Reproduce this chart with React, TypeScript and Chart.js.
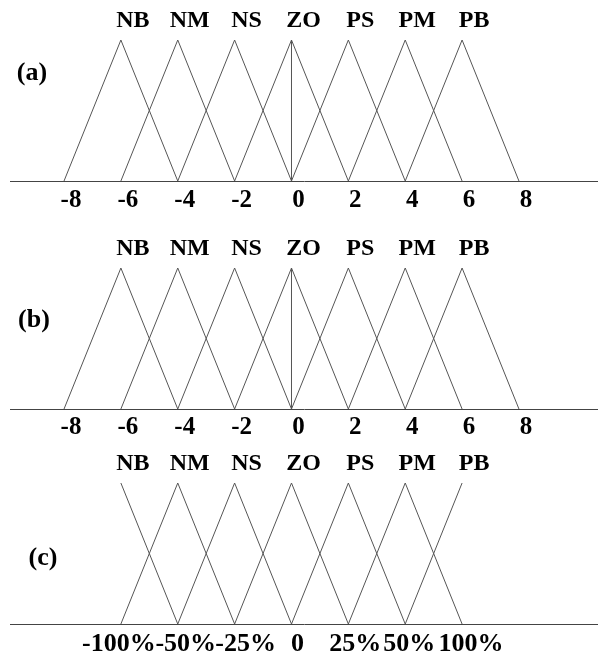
import { useEffect, useRef } from 'react';
import { Chart, registerables } from 'chart.js';

Chart.register(...registerables);

// Linguistic terms shared by all three universes of discourse
const termNames = ['NB', 'NM', 'NS', 'ZO', 'PS', 'PM', 'PB'];

// (a) error: triangular sets given as [left foot, peak, right foot]
const errorTicks = [-8, -6, -4, -2, 0, 2, 4, 6, 8];
const errorTriangles = [
  [-8, -6, -4],
  [-6, -4, -2],
  [-4, -2, 0],
  [-2, 0, 2],
  [0, 2, 4],
  [2, 4, 6],
  [4, 6, 8],
];

// (b) change of error
const errorRateTicks = [-8, -6, -4, -2, 0, 2, 4, 6, 8];
const errorRateTriangles = [
  [-8, -6, -4],
  [-6, -4, -2],
  [-4, -2, 0],
  [-2, 0, 2],
  [0, 2, 4],
  [2, 4, 6],
  [4, 6, 8],
];

// membership grades at each triangle vertex
const triangleGrades = [0, 1, 0];

// vertical marker at the centre of ZO
const centreMarkX = [0, 0];
const centreMarkY = [0, 1];

// (c) output, on an evenly spaced index axis (-3 .. 3)
const outputTickLabels = ['-100%', '-50%', '-25%', '0', '25%', '50%', '100%'];
const outputTickIndex = [-3, -2, -1, 0, 1, 2, 3];
const outputShapeX = [
  [-3, -2],
  [-3, -2, -1],
  [-2, -1, 0],
  [-1, 0, 1],
  [0, 1, 2],
  [1, 2, 3],
  [2, 3],
];
const outputShapeY = [
  [1, 0],
  [0, 1, 0],
  [0, 1, 0],
  [0, 1, 0],
  [0, 1, 0],
  [0, 1, 0],
  [0, 1],
];

const FONT = '"Liberation Serif", "Times New Roman", serif';
const LINE_COLOR = '#555';

type PanelSpec = {
  letter: string;
  top: number;
  height: number;
  axisHeight: number;
  tickPadding: number;
  tickFontSize: number;
  tickShift: number;
  // when set, tick labels are typeset by the overlay with per-label nudges
  tickNudges?: number[];
  letterX: number;
  letterY: number;
  xMin: number;
  xMax: number;
  tickValues: number[];
  tickText: (v: number, i: number) => string;
  series: { x: number; y: number }[][];
  peaks: number[];
};

const pts = (xs: number[], ys: number[]) => xs.map((x, i) => ({ x, y: ys[i] }));

const panels: PanelSpec[] = [
  {
    letter: '(a)',
    top: 0,
    height: 216,
    axisHeight: 35,
    tickPadding: 5,
    tickFontSize: 25,
    tickShift: 7,
    letterX: 32,
    letterY: 73,
    xMin: -9.9,
    xMax: 10.78,
    tickValues: errorTicks,
    tickText: (v) => String(v),
    series: [
      ...errorTriangles.map((t) => pts(t, triangleGrades)),
      pts(centreMarkX, centreMarkY),
    ],
    peaks: errorTriangles.map((t) => t[1]),
  },
  {
    letter: '(b)',
    top: 228,
    height: 216,
    axisHeight: 35,
    tickPadding: 4,
    tickFontSize: 25,
    tickShift: 7,
    letterX: 34,
    letterY: 92,
    xMin: -9.9,
    xMax: 10.78,
    tickValues: errorRateTicks,
    tickText: (v) => String(v),
    series: [
      ...errorRateTriangles.map((t) => pts(t, triangleGrades)),
      pts(centreMarkX, centreMarkY),
    ],
    peaks: errorRateTriangles.map((t) => t[1]),
  },
  {
    letter: '(c)',
    top: 443,
    height: 213,
    axisHeight: 32,
    tickPadding: 6,
    tickFontSize: 26,
    tickShift: 0,
    tickNudges: [-2, 8, 11, 6, 7, 4, 9],
    letterX: 43,
    letterY: 115,
    xMin: -4.95,
    xMax: 5.39,
    tickValues: outputTickIndex,
    tickText: (_v, i) => outputTickLabels[i],
    series: outputShapeX.map((xs, i) => pts(xs, outputShapeY[i])),
    peaks: outputShapeX.map((xs, i) => xs[outputShapeY[i].indexOf(1)]),
  },
];

function MembershipPanel({ spec }: { spec: PanelSpec }) {
  const ref = useRef<HTMLCanvasElement | null>(null);

  useEffect(() => {
    const canvas = ref.current;
    if (!canvas) return;

    const labelPlugin = {
      id: 'termLabels',
      afterDraw(chart: Chart) {
        const { ctx, chartArea } = chart;
        const xScale = chart.scales.x;
        ctx.save();
        ctx.fillStyle = '#000';
        ctx.textAlign = 'center';
        ctx.textBaseline = 'middle';
        ctx.font = `bold 24px ${FONT}`;
        spec.peaks.forEach((p, i) => {
          ctx.fillText(termNames[i], xScale.getPixelForValue(p) + 12, chartArea.top - 19);
        });
        if (spec.tickNudges) {
          ctx.font = `bold ${spec.tickFontSize}px ${FONT}`;
          spec.tickValues.forEach((v, i) => {
            ctx.fillText(
              spec.tickText(v, i),
              xScale.getPixelForValue(v) + spec.tickNudges![i],
              chartArea.bottom + 20,
            );
          });
        }
        ctx.font = `bold 26px ${FONT}`;
        ctx.fillText(spec.letter, spec.letterX, spec.letterY);
        ctx.restore();
      },
    };

    const chart = new Chart(canvas, {
      type: 'line',
      data: {
        datasets: spec.series.map((data) => ({
          data,
          borderColor: LINE_COLOR,
          borderWidth: 1,
          pointRadius: 0,
          tension: 0,
          fill: false,
          clip: false as any,
        })),
      },
      options: {
        animation: false,
        responsive: false,
        devicePixelRatio: 1,
        layout: { padding: { left: 10, right: 0, top: 40, bottom: 0 } },
        plugins: {
          legend: { display: false },
          tooltip: { enabled: false },
        },
        events: [],
        scales: {
          x: {
            type: 'linear',
            min: spec.xMin,
            max: spec.xMax,
            afterBuildTicks: (scale: any) => {
              scale.ticks = spec.tickValues.map((value) => ({ value }));
            },
            afterFit: (scale: any) => {
              scale.height = spec.axisHeight;
            },
            grid: { drawOnChartArea: false, drawTicks: false },
            border: { display: true, color: '#444', width: 1 },
            ticks: {
              display: !spec.tickNudges,
              autoSkip: false,
              maxRotation: 0,
              minRotation: 0,
              padding: spec.tickPadding,
              labelOffset: spec.tickShift,
              color: '#000',
              font: { family: FONT, size: spec.tickFontSize, weight: 'bold' },
              callback: (value: any, index: number) => spec.tickText(Number(value), index),
            },
          },
          y: {
            type: 'linear',
            min: 0,
            max: 1,
            display: false,
          },
        },
      },
      plugins: [labelPlugin],
    });

    return () => chart.destroy();
  }, [spec]);

  return (
    <canvas
      ref={ref}
      width={598}
      height={spec.height}
      style={{ position: 'absolute', left: 0, top: spec.top, width: 598, height: spec.height }}
    />
  );
}

export default function App() {
  return (
    <div style={{ position: 'absolute', left: 0, top: 0, width: 598, height: 656, background: '#fff' }}>
      {panels.map((p) => (
        <MembershipPanel key={p.letter} spec={p} />
      ))}
    </div>
  );
}
